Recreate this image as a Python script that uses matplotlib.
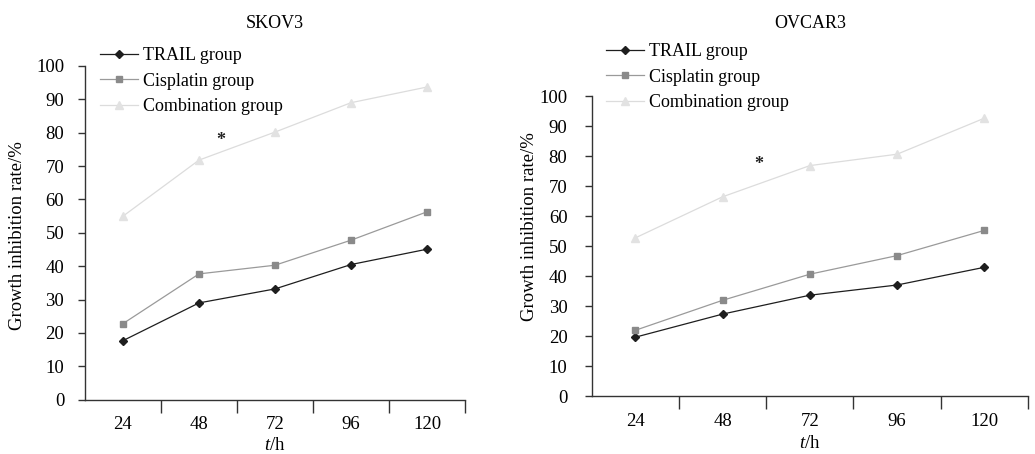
import matplotlib.pyplot as plt
import numpy as np

plt.rcParams['font.family'] = ['Liberation Serif', 'DejaVu Serif']
plt.rcParams['mathtext.fontset'] = 'custom'
plt.rcParams['mathtext.rm'] = 'Liberation Serif'
plt.rcParams['mathtext.it'] = 'Liberation Serif:italic'

hours = ['24', '48', '72', '96', '120']
groups = ['TRAIL group', 'Cisplatin group', 'Combination group']

# SKOV3 growth inhibition (%)
skov3_trail = [17.7, 29.0, 33.2, 40.5, 45.1]
skov3_cis = [22.8, 37.7, 40.3, 47.8, 56.3]
skov3_comb = [55.0, 71.8, 80.2, 89.0, 93.7]

# OVCAR3 growth inhibition (%)
ovcar3_trail = [19.7, 27.4, 33.7, 37.1, 43.0]
ovcar3_cis = [22.0, 32.0, 40.7, 46.9, 55.3]
ovcar3_comb = [52.8, 66.5, 76.9, 80.7, 92.7]

# significance marks (x in category units, y value)
skov3_star = (1.29, 78.4)
ovcar3_star = (1.41, 78.0)

styles = [
    dict(color='#1e1e1e', marker='D', markersize=4, mfc='#1e1e1e', mec='#1e1e1e'),
    dict(color='#9a9a9a', marker='s', markersize=5, mfc='#8a8a8a', mec='#8a8a8a'),
    dict(color='#dcdcdc', marker='^', markersize=6, mfc='#e2e2e2', mec='#e2e2e2'),
]

fig = plt.figure(figsize=(10.35, 4.54), dpi=100)


def panel(rect, title, series, star, ytick_pad, leg_anchor, title_y, ylab_x, ylab_y, xlab_y):
    ax = fig.add_axes(rect)
    x = np.arange(len(hours))
    for vals, name, st in zip(series, groups, styles):
        ax.plot(x, vals, linewidth=0.9, label=name, **st)
    ax.text(star[0], star[1], '*', ha='center', va='center_baseline', fontsize=13,
            fontweight='bold', color='#222222')

    ax.set_xlim(-0.5, len(hours) - 0.5)
    ax.set_ylim(0, 100)
    ax.set_yticks(np.arange(0, 101, 10))
    ax.set_xticks(np.arange(len(hours)) + 0.5)
    ax.set_xticklabels([])
    ax.set_xticks(x, minor=True)
    ax.set_xticklabels(hours, minor=True)
    ax.tick_params(axis='x', which='major', direction='out', length=9, width=1, color='#333333')
    ax.tick_params(axis='x', which='minor', length=0, pad=12, labelsize=13.5)
    ax.tick_params(axis='y', direction='out', length=5, width=1, color='#333333',
                   pad=ytick_pad, labelsize=13.5)
    for s in ['top', 'right']:
        ax.spines[s].set_visible(False)
    for s in ['left', 'bottom']:
        ax.spines[s].set_color('#333333')
        ax.spines[s].set_linewidth(1)

    fig.text(rect[0] + rect[2] / 2, title_y, title, ha='center', va='center', fontsize=13)
    fig.text(ylab_x, ylab_y, 'Growth inhibition rate/%', rotation=90,
             ha='center', va='center', fontsize=13.5)
    fig.text(rect[0] + rect[2] / 2, xlab_y, '$\\mathit{t}$/h', ha='center', va='center',
             fontsize=13.5)

    ax.legend(loc='upper left', bbox_to_anchor=leg_anchor, bbox_transform=fig.transFigure,
              frameon=False, fontsize=13, handlelength=2.1, handletextpad=0.3,
              labelspacing=0.48, borderpad=0, borderaxespad=0)
    return ax


panel([85 / 1035, 1 - 399.7 / 454, 380 / 1035, 333.7 / 454], 'SKOV3',
      [skov3_trail, skov3_cis, skov3_comb], skov3_star, 10,
      (100 / 1035, 1 - 47 / 454), 1 - 24 / 454, 18 / 1035, 1 - 236 / 454, 1 - 445 / 454)

panel([591.7 / 1035, 1 - 396.3 / 454, 436.3 / 1035, 300 / 454], 'OVCAR3',
      [ovcar3_trail, ovcar3_cis, ovcar3_comb], ovcar3_star, 12.5,
      (606 / 1035, 1 - 43 / 454), 1 - 24 / 454, 529 / 1035, 1 - 227 / 454, 1 - 444 / 454)

fig.savefig('out.png', dpi=100)
